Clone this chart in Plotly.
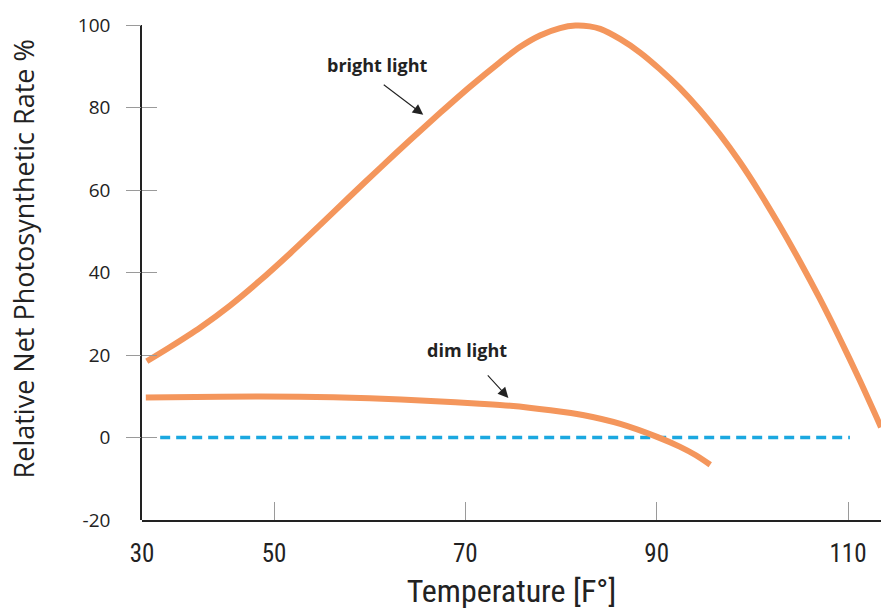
import plotly.graph_objects as go

# Relative net photosynthetic rate (%) against temperature (°F)
bright_temp = [36.7, 39.1, 42.3, 45.4, 48.5, 51.7, 54.8, 57.9, 61.1, 64.2, 67.4,
               70.5, 73.6, 75.7, 77.8, 79.9, 81.5, 83.0, 84.1, 86.2, 88.3, 90.3,
               92.4, 94.5, 96.6, 98.7, 100.8, 102.8, 104.9, 107.0, 109.1, 111.2,
               113.45]
bright_rate = [18.5, 21.9, 26.7, 32.0, 38.0, 44.7, 51.5, 58.4, 65.4, 72.1, 78.8,
               85.1, 91.0, 94.7, 97.5, 99.3, 99.9, 99.7, 99.1, 96.6, 93.3, 89.4,
               84.8, 79.5, 73.5, 66.8, 59.3, 51.6, 43.0, 33.9, 24.2, 14.0,
               2.5]

dim_temp = [36.6, 44.4, 52.7, 60.0, 66.9, 71.5, 74.7, 78.9, 82.4, 86.2, 90.1,
            92.4, 94.1, 95.6]
dim_rate = [9.7, 9.9, 9.9, 9.5, 8.8, 8.2, 7.7, 6.6, 5.4, 3.3, 0.1,
            -2.2, -4.3, -6.6]

zero_temp = [38.1, 110.2]
zero_rate = [0, 0]

x_tick_vals = [36.2, 50, 70, 90, 110]
x_tick_text = ["30", "50", "70", "90", "110"]
y_tick_vals = [-20, 0, 20, 40, 60, 80, 100]
y_tick_text = ["-20", "0", "20", "40", "60", "80", "100"]
y_mark_vals = [0, 20, 40, 60, 80, 100]

ORANGE = "#F4965C"
BLUE = "#1BA8E0"
INK = "#222222"
TICK = "#9a9a9a"
NARROW = "Liberation Sans Narrow, Roboto Condensed, DejaVu Sans Condensed, Roboto, sans-serif"
SANS = "Open Sans, Noto Sans, sans-serif"

X_RANGE = [36.2, 113.45]
Y_RANGE = [-20, 102.95]
Y_AXIS_RANGE = [-20, 100]
y_axis_top = (Y_AXIS_RANGE[1] - Y_RANGE[0]) / (Y_RANGE[1] - Y_RANGE[0])

fig = go.Figure()

fig.add_trace(go.Scatter(
    x=zero_temp, y=zero_rate, mode="lines",
    line=dict(color=BLUE, width=3.5, dash="10px,6px"),
    hoverinfo="skip",
))
fig.add_trace(go.Scatter(
    x=bright_temp, y=bright_rate, mode="lines", name="bright light",
    line=dict(color=ORANGE, width=6, shape="spline", smoothing=0.8),
))
fig.add_trace(go.Scatter(
    x=dim_temp, y=dim_rate, mode="lines", name="dim light",
    line=dict(color=ORANGE, width=6, shape="spline", smoothing=0.8),
))
# empty traces that carry the left axis, its labels and its tick marks
for ax in ["y2", "y3", "y4"]:
    fig.add_trace(go.Scatter(x=[], y=[], xaxis="x", yaxis=ax, hoverinfo="skip"))

# curve labels with pointer arrows
fig.add_annotation(x=60.8, y=90.3, text="<b>bright light</b>", showarrow=False,
                   font=dict(family=SANS, size=18, color=INK))
fig.add_annotation(x=65.6, y=78.3, text="", showarrow=True, ax=-41, ay=-31,
                   arrowhead=2, arrowsize=1.9, arrowwidth=1.1, arrowcolor=INK)
fig.add_annotation(x=70.2, y=21.3, text="<b>dim light</b>", showarrow=False,
                   font=dict(family=SANS, size=18, color=INK))
fig.add_annotation(x=74.5, y=9.6, text="", showarrow=True, ax=-22, ay=-24,
                   arrowhead=2, arrowsize=1.9, arrowwidth=1.1, arrowcolor=INK)

# vertical axis title
fig.add_annotation(x=-0.161, y=0.514, xref="paper", yref="paper",
                   text="Relative Net Photosynthetic Rate %", textangle=-90,
                   showarrow=False, xanchor="center", yanchor="middle",
                   font=dict(family=SANS, size=27, color=INK))

fig.update_layout(
    width=881, height=610,
    margin=dict(l=142, r=0, t=10, b=90),
    paper_bgcolor="white", plot_bgcolor="rgba(0,0,0,0)",
    showlegend=False,
    xaxis=dict(
        range=X_RANGE, tickvals=x_tick_vals, ticktext=x_tick_text,
        ticks="inside", ticklen=18, tickwidth=1, tickcolor=TICK,
        showline=True, linecolor=INK, linewidth=1.5,
        showgrid=False, zeroline=False,
        tickfont=dict(family=NARROW, size=25, color=INK),
        ticklabelstandoff=10,
        title=dict(text="Temperature [F°]", standoff=13,
                   font=dict(family=NARROW, size=32, color=INK)),
    ),
    yaxis=dict(range=Y_RANGE, visible=False),
    yaxis2=dict(
        domain=[0, y_axis_top], range=Y_AXIS_RANGE, anchor="x",
        tickvals=y_tick_vals, ticktext=y_tick_text, ticks="",
        showline=True, linecolor=INK, linewidth=1.5,
        showgrid=False, zeroline=False,
        tickfont=dict(family=SANS, size=19, color=INK, weight=500),
        ticklabelstandoff=26,
    ),
    yaxis3=dict(
        overlaying="y2", range=Y_AXIS_RANGE, anchor="x",
        tickvals=y_mark_vals, ticks="outside", ticklen=15, tickwidth=1.2,
        tickcolor=TICK, showticklabels=False, showline=False,
        showgrid=False, zeroline=False,
    ),
    yaxis4=dict(
        overlaying="y2", range=Y_AXIS_RANGE, anchor="x",
        tickvals=y_mark_vals, ticks="inside", ticklen=15, tickwidth=1.2,
        tickcolor=TICK, showticklabels=False, showline=False,
        showgrid=False, zeroline=False,
    ),
)

fig.write_html("out.html")
